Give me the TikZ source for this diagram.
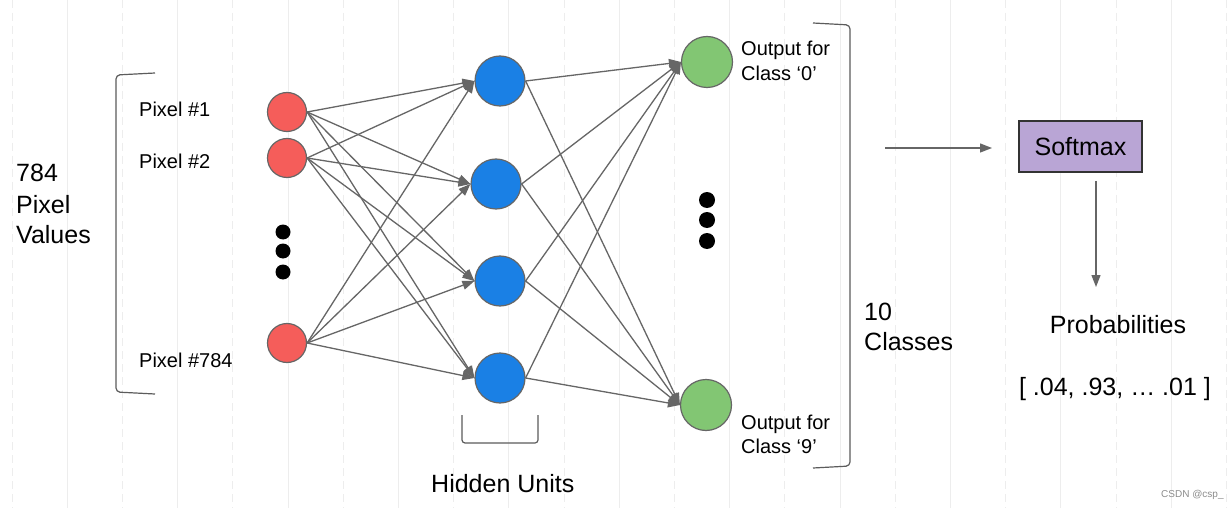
\documentclass[tikz,border=0pt]{standalone}
\usepackage{fontspec}
\setmainfont{Liberation Sans}
\usetikzlibrary{arrows.meta}
\definecolor{redn}{HTML}{F55D5A}
\definecolor{bluen}{HTML}{1A80E5}
\definecolor{greenn}{HTML}{82C673}
\definecolor{purplen}{HTML}{B9A5D5}
\definecolor{edgec}{HTML}{666666}
\definecolor{bgl}{HTML}{EDEDED}
\begin{document}
\begin{tikzpicture}[x=1pt,y=-1pt,
  bgline/.style={draw=bgl,line width=1pt},
  neuron/.style={circle,draw=edgec,line width=1.2pt,inner sep=0pt},
  inp/.style={neuron,fill=redn,minimum size=39pt},
  hid/.style={neuron,fill=bluen,minimum size=50pt},
  outn/.style={neuron,fill=greenn,minimum size=51pt},
  dotn/.style={circle,fill=black,inner sep=0pt,minimum size=#1},
  conn/.style={draw=edgec,line width=1.3pt,-{Triangle[length=12pt,width=9pt]}},
  brk/.style={draw=edgec!90!black,line width=1.2pt,rounded corners=4pt},
  small/.style={font=\fontsize{20}{24}\selectfont,inner sep=0pt,anchor=base west},
  big/.style={font=\fontsize{25}{30}\selectfont,inner sep=0pt,anchor=base west},
  bigc/.style={font=\fontsize{25}{30}\selectfont,inner sep=0pt,anchor=base}]
\useasboundingbox (0,0) rectangle (1232,508);
\fill[white] (0,0) rectangle (1232,508);
% background guide lines
\foreach \k in {0,2,...,22} \draw[bgline,dash pattern=on 8pt off 5pt] ({12+55.2*\k},0) -- ({12+55.2*\k},508);
\foreach \k in {1,3,...,21} \draw[bgline] ({12+55.2*\k},0) -- ({12+55.2*\k},508);

% input layer
\node[inp] (i1) at (287,112) {};
\node[inp] (i2) at (287,158) {};
\node[inp] (i3) at (287,343) {};
\node[dotn=15pt] (d1) at (283,232) {};
\node[dotn=15pt] (d2) at (283,251) {};
\node[dotn=15pt] (d3) at (283,272) {};

% hidden layer
\node[hid] (h1) at (500,81) {};
\node[hid] (h2) at (496,184) {};
\node[hid] (h3) at (500,281) {};
\node[hid] (h4) at (500,378) {};

% output layer
\node[outn] (o1) at (707,62) {};
\node[outn] (o2) at (706,405) {};
\node[dotn=16pt] (e1) at (707,200) {};
\node[dotn=16pt] (e2) at (707,220) {};
\node[dotn=16pt] (e3) at (707,241) {};

% connections
\foreach \i in {i1,i2,i3}
  \foreach \h in {h1,h2,h3,h4}
    \draw[conn] (\i.east) -- (\h.west);
\foreach \h in {h1,h2,h3,h4}
  \foreach \o in {o1,o2}
    \draw[conn] (\h.east) -- (\o.west);

% brackets
\draw[brk] (155,73) -- (116,75) -- (116,392) -- (155,394);
\draw[brk] (813,23) -- (850,25) -- (850,466) -- (813,468);
\draw[brk,rounded corners=3pt] (462,415) -- (462,443) -- (538,443) -- (538,415);

% labels
\node[big] (t784) at (16,182) {784};
\node[big] (tpix) at (16,213) {Pixel};
\node[big] (tval) at (16,243) {Values};
\node[small] (p1) at (139,117) {Pixel \#1};
\node[small] (p2) at (139,168) {Pixel \#2};
\node[small] (p3) at (139,367) {Pixel \#784};
\node[small] (oa1) at (741,56) {Output for};
\node[small] (oa2) at (741,81) {Class ‘0’};
\node[small] (ob1) at (741,429) {Output for};
\node[small] (ob2) at (741,453) {Class ‘9’};
\node[big] (hu) at (431,492) {Hidden Units};
\node[big] (c10) at (864,320) {10};
\node[big] (ccl) at (864,350) {Classes};

% softmax part
\node[draw=black!80,line width=1.2pt,fill=purplen,minimum width=123pt,minimum height=51pt,inner sep=0pt,font=\fontsize{25}{30}\selectfont] (sm) at (1080.5,146.5) {Softmax};
\coordinate (a0) at (885,148);
\coordinate (a1) at (992,148);
\draw[conn] (a0) -- (a1);
\coordinate (b0) at (1096,181);
\coordinate (b1) at (1096,287);
\draw[conn] (b0) -- (b1);
\node[bigc] (prob) at (1118,333) {Probabilities};
\node[bigc] (vals) at (1115,395) {[ .04, .93, … .01 ]};

\node[font=\fontsize{10}{12}\selectfont,text=black!45,inner sep=0pt,anchor=base west] (wm) at (1161,497) {CSDN @csp\_};
\end{tikzpicture}
\end{document}
